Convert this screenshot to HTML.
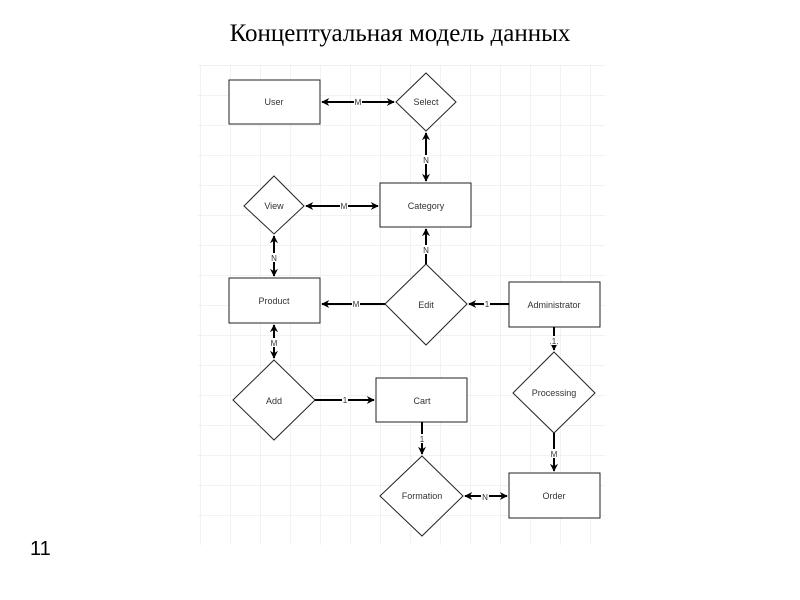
<!DOCTYPE html>
<html><head><meta charset="utf-8"><style>
body{margin:0;width:800px;height:600px;background:#fff;overflow:hidden;position:relative}
.t{position:absolute;top:20px;left:0;width:800px;text-align:center;font:25px "Liberation Serif",serif;color:#000}
.n{position:absolute;left:30px;top:538px;font:20px "Liberation Sans",sans-serif}
</style></head><body>
<div class="t">Концептуальная модель данных</div>
<div class="n">11</div>
<svg width="800" height="600" style="position:absolute;left:0;top:0">
<defs>
<pattern id="g" x="200" y="65" width="30" height="30" patternUnits="userSpaceOnUse">
<path d="M0 0H30M0 0V30" stroke="#e6e6e6" stroke-width="1" fill="none"/>
</pattern>
<marker id="a" viewBox="0 0 10 10" refX="9" refY="5" markerWidth="4" markerHeight="4" orient="auto-start-reverse"><path d="M0 0L10 5L0 10L3 5z" fill="#000"/></marker>
</defs>
<rect x="198" y="65" width="407" height="480" fill="url(#g)"/>
<g fill="#fff" stroke="#222" stroke-width="1">
<rect x="229" y="80" width="91" height="44"/>
<rect x="380" y="183" width="91" height="44"/>
<rect x="229" y="278" width="91" height="45"/>
<rect x="509" y="282" width="91" height="45"/>
<rect x="376" y="378" width="91" height="44"/>
<rect x="509" y="473" width="91" height="45"/>
<polygon points="426,73 456,102 426,131 396,102"/>
<polygon points="274,176 304,206 274,234 244,206"/>
<polygon points="426,264 467,304 426,345 385,304"/>
<polygon points="274,360 315,400 274,440 233,400"/>
<polygon points="554,352 595,393 554,433 513,393"/>
<polygon points="422,456 463,496 422,536 380,496"/>
</g>
<g stroke="#000" stroke-width="2" fill="none">
<line x1="322" y1="102" x2="394" y2="102" marker-start="url(#a)" marker-end="url(#a)"/>
<line x1="426" y1="133" x2="426" y2="181" marker-start="url(#a)" marker-end="url(#a)"/>
<line x1="306" y1="206" x2="378" y2="206" marker-start="url(#a)" marker-end="url(#a)"/>
<line x1="274" y1="236" x2="274" y2="276" marker-start="url(#a)" marker-end="url(#a)"/>
<line x1="426" y1="264" x2="426" y2="229" marker-end="url(#a)"/>
<line x1="385" y1="304" x2="322" y2="304" marker-end="url(#a)"/>
<line x1="509" y1="304" x2="469" y2="304" marker-end="url(#a)"/>
<line x1="554" y1="327" x2="554" y2="350" marker-end="url(#a)"/>
<line x1="274" y1="325" x2="274" y2="358" marker-start="url(#a)" marker-end="url(#a)"/>
<line x1="315" y1="400" x2="374" y2="400" marker-end="url(#a)"/>
<line x1="422" y1="422" x2="422" y2="454" marker-end="url(#a)"/>
<line x1="554" y1="433" x2="554" y2="471" marker-end="url(#a)"/>
<line x1="465" y1="496" x2="507" y2="496" marker-start="url(#a)" marker-end="url(#a)"/>
</g>
<g font-family="Liberation Sans,sans-serif" font-size="9" fill="#333" text-anchor="middle">
<text x="274" y="105">User</text>
<text x="426" y="105">Select</text>
<text x="426" y="209">Category</text>
<text x="274" y="209">View</text>
<text x="274" y="304">Product</text>
<text x="426" y="308">Edit</text>
<text x="554" y="308">Administrator</text>
<text x="274" y="404">Add</text>
<text x="422" y="404">Cart</text>
<text x="554" y="396">Processing</text>
<text x="422" y="499">Formation</text>
<text x="554" y="499">Order</text>
</g>
<g font-family="Liberation Sans,sans-serif" font-size="8" fill="#333" text-anchor="middle">
<g fill="#fff"><rect x="354" y="97" width="8" height="9"/><rect x="422" y="155" width="8" height="9"/><rect x="340" y="201" width="8" height="9"/><rect x="270" y="253" width="8" height="9"/><rect x="422" y="245" width="8" height="9"/><rect x="352" y="299" width="8" height="9"/><rect x="484" y="299" width="6" height="9"/><rect x="551" y="336" width="6" height="9"/><rect x="270" y="338" width="8" height="9"/><rect x="342" y="395" width="6" height="9"/><rect x="419" y="434" width="6" height="9"/><rect x="550" y="449" width="8" height="9"/><rect x="481" y="491" width="8" height="9"/></g>
<text x="358" y="105">M</text><text x="426" y="163">N</text><text x="344" y="209">M</text>
<text x="274" y="261">N</text><text x="426" y="253">N</text><text x="356" y="307">M</text>
<text x="487" y="307">1</text><text x="554" y="344">1</text><text x="274" y="346">M</text>
<text x="345" y="403">1</text><text x="422" y="442">1</text><text x="554" y="457">M</text>
<text x="485" y="500">N</text>
</g>
</svg>
</body></html>
